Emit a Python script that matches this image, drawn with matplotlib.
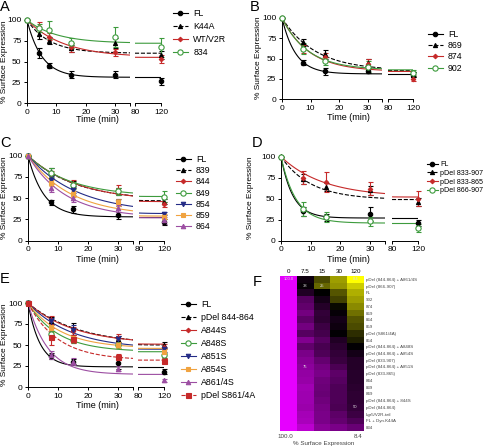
import numpy as np
import matplotlib
matplotlib.use('Agg')
import matplotlib.pyplot as plt
from matplotlib.colors import LinearSegmentedColormap
from matplotlib.lines import Line2D

plt.rcParams['font.family'] = ['Liberation Sans', 'DejaVu Sans']
plt.rcParams['font.size'] = 6
plt.rcParams['axes.linewidth'] = 0.7

W, H = 492, 446

# ---------------- data ----------------
a_times = [0, 4, 7.5, 15, 30, 120]
a_labels = ['FL', 'K44A', 'WT/V2R', '834']
a_means = [[100, 60, 45, 34, 34, 26],
           [100, 83, 75, 66, 72, 58],
           [100, 92, 80, 67, 61, 53],
           [100, 90, 88, 72, 79, 67]]
a_errs = [[0, 6, 3, 4, 4, 4],
          [0, 6, 4, 4, 6, 5],
          [0, 6, 4, 5, 4, 5],
          [0, 5, 11, 6, 12, 11]]
a_plateau = [31, 60, 55, 72]
a_rate = [0.2, 0.13, 0.08, 0.1]

b_times = [0, 7.5, 15, 30, 120]
b_labels = ['FL', '869', '874', '902']
b_means = [[100, 45, 34, 35, 30],
           [100, 70, 55, 45, 30],
           [100, 62, 52, 43, 25],
           [100, 62, 47, 40, 32]]
b_errs = [[0, 3, 4, 3, 3],
          [0, 4, 5, 5, 3],
          [0, 5, 5, 6, 3],
          [0, 7, 5, 7, 4]]
b_plateau = [31, 35, 34, 36]
b_rate = [0.21, 0.085, 0.105, 0.11]

c_times = [0, 7.5, 15, 30, 120]
c_labels = ['FL', '839', '844', '849', '854', '859', '864']
c_means = [[100, 45, 37, 30, 22],
           [100, 81, 66, 58, 46],
           [100, 78, 67, 60, 43],
           [100, 80, 65, 58, 52],
           [100, 72, 60, 45, 32],
           [100, 68, 55, 45, 28],
           [100, 62, 50, 38, 24]]
c_errs = [[0, 3, 4, 4, 4],
          [0, 4, 4, 4, 3],
          [0, 4, 4, 5, 3],
          [0, 5, 4, 4, 6],
          [0, 4, 4, 4, 2],
          [0, 4, 4, 4, 3],
          [0, 5, 4, 4, 4]]
c_plateau = [28, 47, 46, 52, 32, 29, 27]
c_rate = [0.19, 0.063, 0.06, 0.07, 0.06, 0.07, 0.08]

d_times = [0, 7.5, 15, 30, 120]
d_labels = ['FL', 'pDel 833-907', 'pDel 833-865', 'pDel 866-907']
d_means = [[100, 35, 28, 32, 21],
           [100, 73, 64, 60, 46],
           [100, 75, 70, 62, 50],
           [100, 38, 28, 23, 15]]
d_errs = [[0, 5, 4, 8, 4],
          [0, 6, 5, 5, 5],
          [0, 8, 12, 8, 9],
          [0, 8, 6, 5, 5]]
d_plateau = [27, 49, 52, 21]
d_rate = [0.25, 0.1, 0.07, 0.2]

e_times = [0, 7.5, 15, 30, 120]
e_labels = ['FL', 'pDel 844-864', 'A844S', 'A848S', 'A851S', 'A854S',
            'A861/4S', 'pDel S861/4A']
e_means = [[100, 37, 30, 28, 18],
           [100, 79, 69, 57, 50],
           [100, 80, 67, 58, 48],
           [100, 63, 56, 50, 38],
           [100, 78, 68, 57, 45],
           [100, 70, 58, 50, 42],
           [100, 38, 30, 22, 8],
           [100, 60, 57, 36, 31]]
e_errs = [[0, 4, 3, 6, 3],
          [0, 4, 7, 4, 3],
          [0, 5, 5, 5, 3],
          [0, 4, 4, 4, 3],
          [0, 4, 6, 4, 3],
          [0, 4, 4, 4, 3],
          [0, 5, 4, 3, 2],
          [0, 10, 5, 3, 3]]
e_plateau = [24, 50, 51, 42, 45, 46, 15, 32]
e_rate = [0.25, 0.06, 0.065, 0.1, 0.069, 0.09, 0.15, 0.1]

f_cols = ['0', '7.5', '15', '30', '120']
f_rows = ['pDel (844-864) + A861/4S', 'pDel (866-907)', 'FL', '902', '874',
          '869', '864', '859', 'pDel (S861/4A)', '854',
          'pDel (844-864) + A848S', 'pDel (844-864) + A854S',
          'pDel (833-907)', 'pDel (844-864) + A851S', 'pDel (833-865)',
          '844', '839', '849', 'pDel (844-864) + 844S', 'pDel (844-864)',
          'Lgr5/V2R-tail', 'FL + Dyn.K44A', '834']
f_vals = [[100.0, 40, 28, 19, 8.4],
          [100.0, 38, 25, 20, 14],
          [100.0, 45, 36, 27, 17],
          [100.0, 60, 42, 29, 19],
          [100.0, 63, 46, 35, 21],
          [100.0, 68, 50, 38, 24],
          [100.0, 62, 49, 42, 27],
          [100.0, 68, 53, 40, 28],
          [100.0, 60, 55, 37, 31],
          [100.0, 72, 60, 45, 33],
          [100.0, 63, 56, 48, 37],
          [100.0, 70, 58, 50, 42],
          [100.0, 73, 64, 52, 46],
          [100.0, 75, 68, 57, 46],
          [100.0, 77, 70, 62, 47],
          [100.0, 78, 67, 60, 47],
          [100.0, 81, 66, 58, 48],
          [100.0, 80, 65, 58, 49],
          [100.0, 80, 67, 58, 49],
          [100.0, 79, 69, 57, 50],
          [100.0, 82, 70, 62, 53],
          [100.0, 83, 70, 64, 58],
          [100.0, 88, 74, 70, 65]]
# cells that carry a printed value (row, col)
f_marked = [(0, 0), (0, 4), (1, 1), (1, 2), (13, 1), (19, 4)]

# ---------------- styles ----------------
RED = '#c62a2a'
GREEN = '#3d9b3d'
BLUE = '#232b86'
ORANGE = '#f0a340'
PURPLE = '#9c4ea2'
STY = {
    'fl': dict(color='black', marker='o', ms=3.2, ls='-', mfc='black'),
    'dash': dict(color='black', marker='^', ms=3.0, ls='--', mfc='black'),
    'red': dict(color=RED, marker='D', ms=2.3, ls='-', mfc=RED),
    'green': dict(color=GREEN, marker='o', ms=3.8, ls='-', mfc='white'),
    'blue': dict(color=BLUE, marker='v', ms=3.2, ls='-', mfc=BLUE),
    'orange': dict(color=ORANGE, marker='s', ms=2.6, ls='-', mfc=ORANGE),
    'purple': dict(color=PURPLE, marker='^', ms=3.2, ls='-', mfc=PURPLE),
    'redsq': dict(color=RED, marker='s', ms=3.6, ls='--', mfc=RED),
}

fig = plt.figure(figsize=(W / 100, H / 100), dpi=100)


def fit(t, p, k):
    return p + (100 - p) * np.exp(-k * t)


def panel(px, times, labels, means, errs, plat, rate, styles,
          leg_xy, leg_sp, leg_fs, time_xy, ylab_xy, letter, letter_xy,
          hlen=1.7, hpad=0.6):
    x0, x35, x80, x120, y0, y100 = px
    ytop = y0 - 1.03 * (y0 - y100)
    hh = (y0 - ytop) / H
    axl = fig.add_axes([x0 / W, 1 - y0 / H, (x35 - x0) / W, hh])
    axr = fig.add_axes([x80 / W, 1 - y0 / H, (x120 - x80) / W, hh])
    t = np.array(times, dtype=float)
    handles = []
    for i in range(len(labels)):
        s = STY[styles[i]]
        m = np.array(means[i], dtype=float)
        e = np.array(errs[i], dtype=float)
        for ax, msk, tt in ((axl, t <= 35, np.linspace(0, 35, 120)),
                            (axr, t >= 80, np.linspace(80, 120, 10))):
            ax.plot(tt, fit(tt, plat[i], rate[i]), color=s['color'],
                    ls=s['ls'], lw=0.8)
            eb = ax.errorbar(t[msk], m[msk], yerr=e[msk], fmt='none',
                             ecolor=s['color'], elinewidth=0.8, capsize=1.8,
                             capthick=0.8)
            for ch in eb.get_children():
                ch.set_clip_on(False)
            ax.plot(t[msk], m[msk], ls='none', marker=s['marker'],
                    ms=s['ms'], color=s['color'], mfc=s['mfc'],
                    mew=0.8, clip_on=False, zorder=5)
        handles.append(Line2D([], [], color=s['color'], ls=s['ls'], lw=0.8,
                              marker=s['marker'], ms=s['ms'], mfc=s['mfc'],
                              mew=0.8))
    axl.set_xlim(0, 35)
    axr.set_xlim(80, 120)
    for ax in (axl, axr):
        ax.set_ylim(0, 103)
        ax.spines['top'].set_visible(False)
        ax.spines['right'].set_visible(False)
        ax.tick_params(direction='out', length=2.5, width=0.7,
                       labelsize=6, pad=1.5)
        ax.patch.set_alpha(0)
    axl.set_xticks([0, 10, 20, 30, 35])
    axl.set_xticklabels(['0', '10', '20', '30', ''])
    axl.set_yticks([0, 25, 50, 75, 100])
    axr.set_xticks([80, 120])
    axr.spines['left'].set_visible(False)
    axr.set_yticks([])
    fig.text(time_xy[0] / W, 1 - time_xy[1] / H, 'Time (min)', ha='center',
             va='center', fontsize=6.5)
    fig.text(ylab_xy[0] / W, 1 - ylab_xy[1] / H, '% Surface Expression',
             rotation=90, ha='center', va='center', fontsize=6)
    fig.text(letter_xy[0] / W, 1 - letter_xy[1] / H, letter, fontsize=10.5,
             ha='left', va='top')
    fig.legend(handles, labels, loc='upper left',
               bbox_to_anchor=(leg_xy[0] / W, 1 - leg_xy[1] / H),
               frameon=False, fontsize=leg_fs, handlelength=hlen,
               handletextpad=hpad, labelspacing=leg_sp, borderpad=0,
               borderaxespad=0)


panel((27, 130, 135, 161, 103, 20), a_times, a_labels, a_means, a_errs,
      a_plateau, a_rate, ['fl', 'dash', 'red', 'green'],
      (173, 9), 0.45, 6.3, (97, 120), (5, 62), 'A', (0, 0))
panel((282, 382, 388, 413, 99, 18), b_times, b_labels, b_means, b_errs,
      b_plateau, b_rate, ['fl', 'dash', 'red', 'green'],
      (428, 30), 0.25, 6.3, (348, 117), (258, 58), 'B', (250, 0))
panel((28, 133, 139, 164, 240.7, 155.7), c_times, c_labels, c_means, c_errs,
      c_plateau, c_rate,
      ['fl', 'dash', 'red', 'green', 'blue', 'orange', 'purple'],
      (176, 155), 0.25, 6.3, (97, 259), (5, 198), 'C', (0, 136))
panel((281, 385, 392, 418, 240.7, 156.7), d_times, d_labels, d_means, d_errs,
      d_plateau, d_rate, ['fl', 'dash', 'red', 'green'],
      (427, 161), 0.25, 5.1, (348, 259), (250, 198), 'D', (252, 136),
      hlen=1.5, hpad=0.4)
panel((28, 133, 138, 164, 387, 303), e_times, e_labels, e_means, e_errs,
      e_plateau, e_rate,
      ['fl', 'dash', 'red', 'green', 'blue', 'orange', 'purple', 'redsq'],
      (181, 300), 0.45, 6.3, (97, 405), (5, 345), 'E', (0, 272))

# ---------------- heatmap F ----------------
vmin, vmax = 8.4, 100.0
mid = (36 - vmin) / (vmax - vmin)
cmap = LinearSegmentedColormap.from_list(
    'ybm', [(0, '#ffff00'), (mid, '#000000'), (1, '#e600ff')])
hx0, hx1, hy0, hy1 = 280, 364, 276, 431
axf = fig.add_axes([hx0 / W, 1 - hy1 / H, (hx1 - hx0) / W, (hy1 - hy0) / H])
vals = np.array(f_vals)
axf.imshow(vals, cmap=cmap, vmin=vmin, vmax=vmax, aspect='auto',
           interpolation='nearest')
for r, c in f_marked:
    v = vals[r, c]
    txt = '%.1f' % v if v in (100.0, 8.4) else '%d' % v
    axf.text(c, r, txt, ha='center', va='center', fontsize=3,
             color='#dddddd')
axf.set_xticks(range(len(f_cols)))
axf.set_xticklabels(f_cols, fontsize=4.5)
axf.xaxis.tick_top()
axf.set_yticks(range(len(f_rows)))
axf.set_yticklabels(f_rows, fontsize=3.2, color='#444444')
axf.yaxis.tick_right()
axf.tick_params(length=0, pad=1.5)
for sp in axf.spines.values():
    sp.set_visible(False)
fig.text(285 / W, 1 - 437 / H, '100.0', ha='center', va='center',
         fontsize=4.5, color='#444444')
fig.text(358 / W, 1 - 437 / H, '8.4', ha='center', va='center',
         fontsize=4.5, color='#444444')
fig.text(324 / W, 1 - 443 / H, '% Surface Expression', ha='center',
         va='center', fontsize=4.5, color='#444444')
fig.text(253 / W, 1 - 275 / H, 'F', fontsize=10.5, ha='left', va='top')

fig.savefig('out.png', dpi=100)
